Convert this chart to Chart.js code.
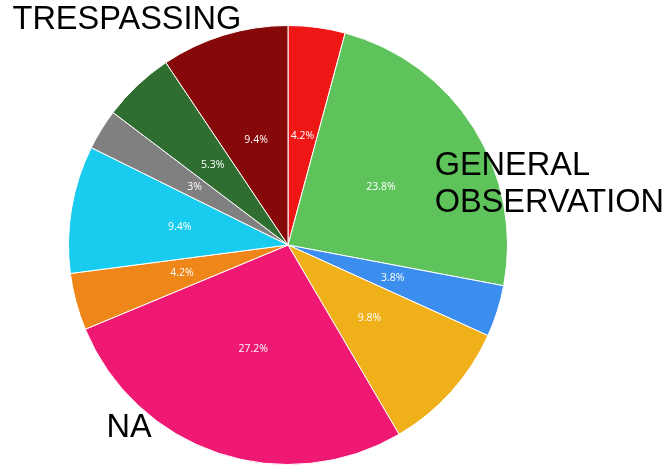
<!DOCTYPE html>
<html>
<head>
<meta charset="utf-8">
<script src="https://cdn.jsdelivr.net/npm/chart.js@4"></script>
<style>
html,body{margin:0;padding:0;background:#fff;}
#wrap{width:669px;height:465px;position:relative;}
</style>
</head>
<body>
<div id="wrap"><canvas id="c"></canvas></div>
<script>
const categories = ["Cat A","GENERAL OBSERVATION","Cat C","Cat D","NA","Cat F","Cat G","Cat H","Cat I","TRESPASSING"];
const values = [4.2,23.8,3.8,9.8,27.2,4.2,9.4,3,5.3,9.4];
const colors = ["#EF1616","#5EC35B","#3C8EEE","#F0B019","#EF1873","#EE8619","#17CCEE","#808080","#2F6E30","#870808"];
// outer category labels: [index, lines, x offset (R units), baseline offset (R units)]
const outerLabels = [
  [9, ["TRESPASSING"], -1.255, -0.985],
  [1, ["GENERAL","OBSERVATION"], 0.668, -0.32],
  [4, ["NA"], -0.827, 0.875]
];

const labelPlugin = {
  id: 'labels',
  afterDatasetsDraw(chart) {
    const ctx = chart.ctx;
    const meta = chart.getDatasetMeta(0);
    ctx.save();
    ctx.fillStyle = '#fff';
    ctx.font = '10.5px "Open Sans", sans-serif';
    ctx.textAlign = 'center';
    ctx.textBaseline = 'middle';
    meta.data.forEach((arc, i) => {
      const mid = (arc.startAngle + arc.endAngle) / 2;
      const r = arc.outerRadius * 0.5;
      ctx.fillText(values[i] + '%', arc.x + Math.cos(mid) * r, arc.y + Math.sin(mid) * r);
    });
    const a0 = meta.data[0];
    const R = a0.outerRadius, cx = a0.x, cy = a0.y;
    ctx.fillStyle = '#000';
    ctx.font = '32.5px "Liberation Sans", Arial, sans-serif';
    ctx.textAlign = 'left';
    ctx.textBaseline = 'alphabetic';
    outerLabels.forEach(([idx, lines, fx, fy]) => {
      lines.forEach((t, k) => {
        ctx.fillText(t, cx + fx * R, cy + fy * R + k * 37);
      });
    });
    ctx.restore();
  }
};

new Chart(document.getElementById('c'), {
  type: 'pie',
  data: {
    labels: categories,
    datasets: [{
      data: values,
      backgroundColor: colors,
      borderColor: '#ffffff',
      borderWidth: 1
    }]
  },
  options: {
    responsive: true,
    maintainAspectRatio: false,
    animation: false,
    layout: { padding: { top: 25, right: 93, left: 0, bottom: 0 } },
    plugins: { legend: { display: false }, tooltip: { enabled: false } }
  },
  plugins: [labelPlugin]
});
</script>
</body>
</html>
